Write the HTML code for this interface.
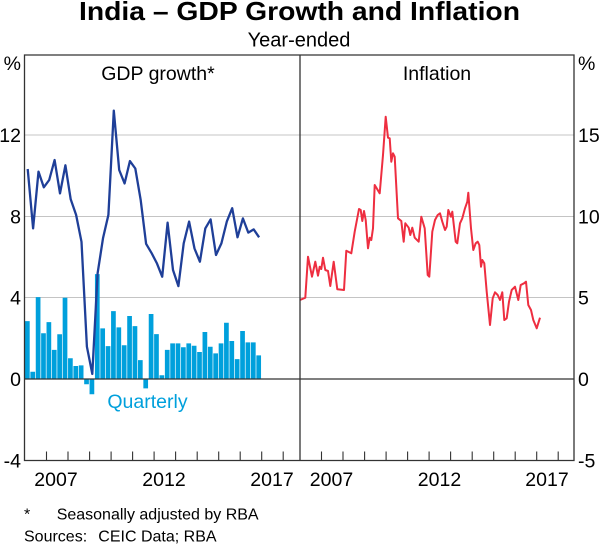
<!DOCTYPE html>
<html><head><meta charset="utf-8"><style>
html,body{margin:0;padding:0;background:#fff;}
svg{display:block;}
text{font-family:"Liberation Sans",Arial,sans-serif;fill:#000;}
</style></head><body>
<svg width="600" height="547" viewBox="0 0 600 547" xmlns="http://www.w3.org/2000/svg">
<rect width="600" height="547" fill="#fff"/>
<path d="M25 135H574M25 216.5H574M25 297.5H574" stroke="#c4c4c4" stroke-width="1" fill="none"/>
<path fill="#00a0dc" d="M25 379V321.1h4.7V379z M30.38 379V371.7h4.7V379z M35.76 379V297.1h4.7V379z M41.14 379V333.3h4.7V379z M46.52 379V322.1h4.7V379z M51.9 379V349.9h4.7V379z M57.28 379V334.3h4.7V379z M62.66 379V297.7h4.7V379z M68.04 379V358.3h4.7V379z M73.42 379V366h4.7V379z M78.8 379V365.4h4.7V379z M84.18 379V384.3h4.7V379z M89.56 379V394.2h4.7V379z M94.94 379V274.1h4.7V379z M100.32 379V328.4h4.7V379z M105.7 379V346.1h4.7V379z M111.08 379V311.1h4.7V379z M116.46 379V327.4h4.7V379z M121.84 379V345.3h4.7V379z M127.22 379V316h4.7V379z M132.6 379V326.1h4.7V379z M137.98 379V360.1h4.7V379z M143.36 379V388.4h4.7V379z M148.74 379V314h4.7V379z M154.12 379V334.1h4.7V379z M159.5 379V375.3h4.7V379z M164.88 379V349.9h4.7V379z M170.26 379V343.4h4.7V379z M175.64 379V343.4h4.7V379z M181.02 379V347.3h4.7V379z M186.4 379V343.4h4.7V379z M191.78 379V345.7h4.7V379z M197.16 379V352h4.7V379z M202.54 379V332h4.7V379z M207.92 379V346.7h4.7V379z M213.3 379V353.4h4.7V379z M218.68 379V343.4h4.7V379z M224.06 379V322.7h4.7V379z M229.44 379V341h4.7V379z M234.82 379V359.1h4.7V379z M240.2 379V331h4.7V379z M245.58 379V342.4h4.7V379z M250.96 379V342.4h4.7V379z M256.34 379V355.4h4.7V379z"/>
<path d="M25 379H574" stroke="#333" stroke-width="1.2"/>
<polyline fill="none" stroke="#1f3f98" stroke-width="2.3" stroke-linejoin="round" points="27.7,169 33.1,228.4 38.5,171.6 43.8,187.3 49.2,180 54.6,160 60,193.4 65.4,165.3 70.7,199.3 76.1,214.9 81.5,241.8 86.9,346.7 92.3,373.9 97.6,273.3 103,238.3 108.4,214.9 113.8,110.6 119.2,170 124.6,183.4 129.9,161.1 135.3,168.5 140.7,200.1 146.1,243.8 151.5,252.9 156.8,263.1 162.2,276.7 167.6,222.7 173,270 178.4,286.1 183.7,243.4 189.1,221.6 194.5,248.5 199.9,261.7 205.3,228.4 210.6,219.4 216,255 221.4,243.4 226.8,221.6 232.2,208.2 237.5,237.3 242.9,218.4 248.3,232.6 253.7,229.4 259.1,237.3"/>
<polyline fill="none" stroke="#ee2e40" stroke-width="2" stroke-linejoin="round" points="300,300 305.3,297.7 308,256.7 312,276.7 315.3,261.7 318,275.7 319.7,266.7 321.3,269 323,257.7 325.3,270 328,271 330.3,286 333.7,261.7 337.3,289.3 344,290 346.3,250.7 351.3,253.3 354.7,231.7 359,209 360.7,210 362.3,221 364,211 365.7,220 368,248.3 369.7,237.7 371.3,240 373,228.3 374.7,185 379.7,193.3 383,155 385.7,116.7 388,137.7 389.7,138.3 391.3,161.7 393,153.3 394.7,156.7 398,218.3 401.3,221 403.7,241.7 405.3,223.3 408.7,227.7 410.3,235 412.3,227.7 414.7,237.7 418.7,241.7 421.3,216.7 424.7,228.3 427.7,275 429.3,276.7 432.3,231.7 435,220 437.7,215 440,213.3 442.3,221.7 445,230 446.7,226.7 448.3,210 451,216.7 452.3,211.7 455.7,241.7 457.3,243.3 460,223.3 462.3,218.3 465,208.3 467.3,201.7 468.3,192.7 471,228.3 473.3,250 475.7,243.3 477.7,241.7 479.3,245 481,266.7 482.3,260 484.3,263.3 486.7,291.7 490,325 492.7,298.3 495,292.3 497.7,295 500,300 502.3,292.3 504.3,320 506.7,318.3 509,301.7 511.7,290 515,286.7 518.3,300 520.7,285 524,283.3 526,281.7 528.3,305 531,310 533.3,320 536.7,328.3 540,317.7"/>
<path d="M24.5 55H574V460.5H24.5Z M300 55V460.5" stroke="#333" stroke-width="1.3" fill="none"/>
<path stroke="#333" stroke-width="1.1" fill="none" d="M46.5 451.5v9M68 451.5v9M89.6 451.5v9M111.1 451.5v9M132.6 451.5v9M154.1 451.5v9M175.6 451.5v9M197.2 451.5v9M218.7 451.5v9M240.2 451.5v9M261.7 451.5v9M283.2 451.5v9M321.5 451.5v9M343 451.5v9M364.6 451.5v9M386.1 451.5v9M407.6 451.5v9M429.1 451.5v9M450.6 451.5v9M472.2 451.5v9M493.7 451.5v9M515.2 451.5v9M536.7 451.5v9M558.2 451.5v9"/>
<text x="299.5" y="20" font-size="26" font-weight="bold" text-anchor="middle" textLength="441" lengthAdjust="spacingAndGlyphs">India – GDP Growth and Inflation</text>
<text x="299" y="46.5" font-size="20" text-anchor="middle">Year-ended</text>
<text x="158" y="80" font-size="19.5" text-anchor="middle">GDP growth*</text>
<text x="437" y="80" font-size="19.5" text-anchor="middle">Inflation</text>
<text x="147.5" y="408" font-size="19.5" text-anchor="middle" style="fill:#00a0dc">Quarterly</text>
<text font-size="19.5" text-anchor="end"><tspan x="21" y="70">%</tspan><tspan x="21" y="142">12</tspan><tspan x="21" y="223.5">8</tspan><tspan x="21" y="304.5">4</tspan><tspan x="21" y="386">0</tspan><tspan x="21" y="467.5">-4</tspan></text>
<text font-size="19.5"><tspan x="578" y="70">%</tspan><tspan x="578" y="142">15</tspan><tspan x="578" y="223.5">10</tspan><tspan x="578" y="304.5">5</tspan><tspan x="578" y="386">0</tspan><tspan x="578" y="467.5">-5</tspan></text>
<text font-size="19.5" text-anchor="middle"><tspan x="56" y="486">2007</tspan><tspan x="164" y="486">2012</tspan><tspan x="272" y="486">2017</tspan><tspan x="331.5" y="486">2007</tspan><tspan x="439.5" y="486">2012</tspan><tspan x="547" y="486">2017</tspan></text>
<text x="24" y="519.5" font-size="16">*</text>
<text x="56.7" y="519.5" font-size="16">Seasonally adjusted by RBA</text>
<text x="24" y="541.5" font-size="16">Sources:</text>
<text x="98.3" y="541.5" font-size="16">CEIC Data; RBA</text>
</svg>
</body></html>
